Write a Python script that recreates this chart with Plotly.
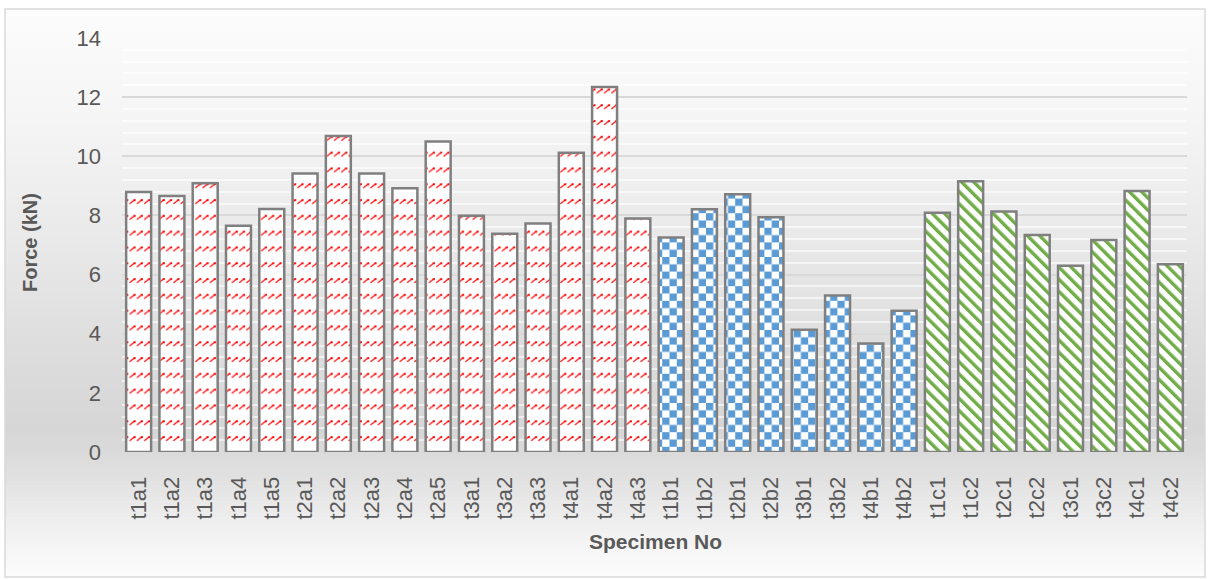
import plotly.graph_objects as go

# ---- data -------------------------------------------------------------
specimens_a = ["t1a1", "t1a2", "t1a3", "t1a4", "t1a5", "t2a1", "t2a2", "t2a3",
               "t2a4", "t2a5", "t3a1", "t3a2", "t3a3", "t4a1", "t4a2", "t4a3"]
force_a = [8.79, 8.66, 9.09, 7.65, 8.22, 9.42, 10.69, 9.42,
           8.92, 10.50, 7.99, 7.38, 7.73, 10.12, 12.34, 7.90]

specimens_b = ["t1b1", "t1b2", "t2b1", "t2b2", "t3b1", "t3b2", "t4b1", "t4b2"]
force_b = [7.25, 8.21, 8.72, 7.94, 4.13, 5.29, 3.67, 4.78]

specimens_c = ["t1c1", "t1c2", "t2c1", "t2c2", "t3c1", "t3c2", "t4c1", "t4c2"]
force_c = [8.09, 9.16, 8.13, 7.34, 6.30, 7.17, 8.83, 6.35]

y_ticks = [0, 2, 4, 6, 8, 10, 12, 14]

# ---- geometry / style -------------------------------------------------
W, H = 1211, 579
ML, MR, MT, MB = 122, 24, 38, 127
PW, PH = W - ML - MR, H - MT - MB
TEXT = "#595959"
FONT = "Liberation Sans, Arial, sans-serif"


def px_to_paper(x=None, y=None):
    out = []
    if x is not None:
        out.append((x - ML) / PW)
    if y is not None:
        out.append((H - MB - y) / PH)
    return out[0] if len(out) == 1 else tuple(out)


# vertical background gradient of the chart area (pixel row -> grey level)
grad_stops = [(9, 252), (120, 245), (250, 232), (360, 220), (430, 214),
              (465, 221), (520, 238), (577, 253)]


def grey_at(y):
    for (y0, g0), (y1, g1) in zip(grad_stops, grad_stops[1:]):
        if y0 <= y <= y1:
            t = (y - y0) / (y1 - y0)
            return round(g0 + (g1 - g0) * t)
    return grad_stops[-1][1]


shapes = []
step = 4
y = 9
while y < 577:
    g = grey_at(y + step / 2)
    x0, y0 = px_to_paper(5, y)
    x1, y1 = px_to_paper(1205, min(y + step + 0.6, 577))
    shapes.append(dict(type="rect", xref="paper", yref="paper", layer="below",
                       x0=x0, x1=x1, y0=y0, y1=y1,
                       fillcolor=f"rgb({g},{g},{g})", line=dict(width=0)))
    y += step

# chart-area border
bx0, by0 = px_to_paper(5, 9)
bx1, by1 = px_to_paper(1205, 577)
shapes.append(dict(type="rect", xref="paper", yref="paper", layer="below",
                   x0=bx0, x1=bx1, y0=by0, y1=by1,
                   line=dict(color="#d9d9d9", width=1.5)))

outline = dict(color="#7f7f7f", width=2.5)

fig = go.Figure()
fig.add_trace(go.Bar(
    x=specimens_a, y=force_a, name="a",
    marker=dict(color="white", line=outline,
                pattern=dict(shape="/", fgcolor="#ff0000", bgcolor="white",
                             size=7, solidity=0.2)),
))
fig.add_trace(go.Bar(
    x=specimens_b, y=force_b, name="b",
    marker=dict(color="white", line=outline,
                pattern=dict(shape="+", fgcolor="#5b9bd5", bgcolor="white",
                             size=7, solidity=0.5)),
))
fig.add_trace(go.Bar(
    x=specimens_c, y=force_c, name="c",
    marker=dict(color="white", line=outline,
                pattern=dict(shape="\\", fgcolor="#70ad47", bgcolor="white",
                             size=12, solidity=0.4)),
))

all_specimens = specimens_a + specimens_b + specimens_c

tx, ty = px_to_paper(30, 243)
sx, sy = px_to_paper(655, 541)

fig.update_layout(
    width=W, height=H,
    margin=dict(l=ML, r=MR, t=MT, b=MB),
    paper_bgcolor="white",
    plot_bgcolor="rgba(0,0,0,0)",
    barmode="overlay",
    bargap=0.25,
    showlegend=False,
    font=dict(family=FONT, color=TEXT),
    shapes=shapes,
    xaxis=dict(
        type="category", categoryorder="array", categoryarray=all_specimens,
        tickangle=-90, tickfont=dict(size=22, color=TEXT, family=FONT),
        showgrid=False, showline=True, linecolor="#d9d9d9", linewidth=1,
        ticks="", ticklabelstandoff=15,
    ),
    yaxis=dict(
        range=[0, 14], tickvals=y_ticks,
        tickfont=dict(size=22, color=TEXT, family=FONT),
        showgrid=True, gridcolor="#d9d9d9", gridwidth=2,
        minor=dict(dtick=0.4, showgrid=True,
                   gridcolor="rgba(255,255,255,0.6)", gridwidth=2),
        zeroline=False, showline=False, ticks="", ticklabelstandoff=20,
    ),
    annotations=[
        dict(text="<b>Force (kN)</b>", xref="paper", yref="paper",
             x=tx, y=ty, xanchor="center", yanchor="middle",
             textangle=-90, showarrow=False,
             font=dict(size=20, color=TEXT, family=FONT)),
        dict(text="<b>Specimen No</b>", xref="paper", yref="paper",
             x=sx, y=sy, xanchor="center", yanchor="middle", showarrow=False,
             font=dict(size=21, color=TEXT, family=FONT)),
    ],
)

# custom SVG fills: red dashed diagonals, blue checkerboard, green stripes
fill_js = r"""
var gd = document.getElementById('{plot_id}');
var NS = 'http://www.w3.org/2000/svg';
function mk(tag, attrs, parent) {
  var e = document.createElementNS(NS, tag);
  for (var k in attrs) { e.setAttribute(k, attrs[k]); }
  if (parent) { parent.appendChild(e); }
  return e;
}
function buildDefs() {
  var svg = gd.querySelector('svg.main-svg');
  var defs = svg.querySelector('defs');
  if (!defs) { defs = mk('defs', {}, svg); }
  if (document.getElementById('fill-a')) { return; }
  var pa = mk('pattern', {id: 'fill-a', patternUnits: 'userSpaceOnUse',
                          width: 7.3, height: 15.8}, defs);
  mk('rect', {x: 0, y: 0, width: 7.3, height: 15.8, fill: '#ffffff'}, pa);
  mk('path', {d: 'M0.8 7.4 L4.8 4.2', stroke: '#ff1a1a', 'stroke-width': 1.4,
              'stroke-linecap': 'round', fill: 'none'}, pa);
  mk('rect', {x: 4.3, y: 3.1, width: 2.0, height: 2.0, fill: '#ff0000'}, pa);

  var pb = mk('pattern', {id: 'fill-b', patternUnits: 'userSpaceOnUse',
                          width: 14.6, height: 14.6}, defs);
  mk('rect', {x: 0, y: 0, width: 14.6, height: 14.6, fill: '#ffffff'}, pb);
  mk('rect', {x: 0, y: 0, width: 7.3, height: 7.3, fill: '#5b9bd5'}, pb);
  mk('rect', {x: 7.3, y: 7.3, width: 7.3, height: 7.3, fill: '#5b9bd5'}, pb);

  var pc = mk('pattern', {id: 'fill-c', patternUnits: 'userSpaceOnUse',
                          width: 8.6, height: 8.6,
                          patternTransform: 'rotate(-45)'}, defs);
  mk('rect', {x: 0, y: 0, width: 8.6, height: 8.6, fill: '#ffffff'}, pc);
  mk('rect', {x: 0, y: 0, width: 3.4, height: 8.6, fill: '#70ad47'}, pc);
}
function applyFills() {
  buildDefs();
  var ids = ['fill-a', 'fill-b', 'fill-c'];
  var traces = gd.querySelectorAll('.barlayer .trace.bars');
  traces.forEach(function (t, i) {
    if (i >= ids.length) { return; }
    t.querySelectorAll('g.point path').forEach(function (p) {
      p.style.fill = 'url(#' + ids[i] + ')';
      p.style.fillOpacity = 1;
    });
  });
}
applyFills();
gd.on('plotly_afterplot', applyFills);
"""

fig.write_html("out.html", post_script=fill_js)
